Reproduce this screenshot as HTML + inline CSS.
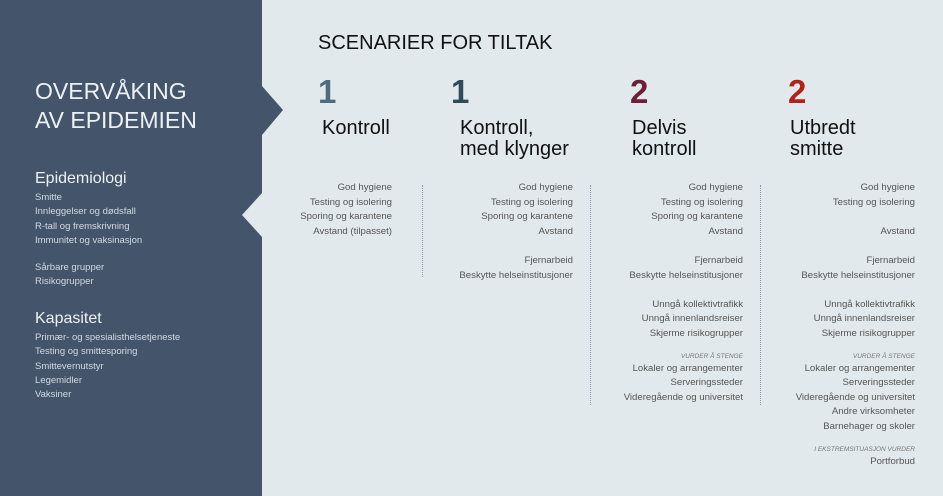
<!DOCTYPE html>
<html><head><meta charset="utf-8"><style>
body{margin:0;width:943px;height:496px;background:#e1e9ec;position:relative;overflow:hidden;font-family:"Liberation Sans",sans-serif}
.a{position:absolute;white-space:nowrap}
.l{color:#d3dae3;font-size:9.5px;left:35px}
.c{line-height:14.6px;color:#555;font-size:9.6px;text-align:right}
.s{color:#777;font-size:6.5px;font-style:italic;text-align:right;line-height:10px;margin-top:10px}
.h{color:#111;font-size:20px;line-height:21px}
.n{font-size:33px;font-weight:bold}
.d{position:absolute;top:185px;width:0;border-left:1px dotted #8a98a8}
</style></head><body>
<svg class="a" style="left:0;top:0" width="290" height="496"><polygon points="0,0 262,0 262,86 283,110 262,135 262,193 242,215 262,237 262,496 0,496" fill="#44546a"/></svg>
<div class="a" style="left:35px;top:77px;color:#eef1f4;font-size:23px;line-height:29px">OVERVÅKING<br>AV EPIDEMIEN</div>
<div class="a" style="left:35px;top:170px;color:#eef1f4;font-size:16px">Epidemiologi</div>
<div class="a" style="left:35px;top:310px;color:#eef1f4;font-size:16px">Kapasitet</div>
<div class="a l" style="top:192px">Smitte</div>
<div class="a l" style="top:206px">Innleggelser og dødsfall</div>
<div class="a l" style="top:221px">R-tall og fremskrivning</div>
<div class="a l" style="top:235px">Immunitet og vaksinasjon</div>
<div class="a l" style="top:262px">Sårbare grupper</div>
<div class="a l" style="top:276px">Risikogrupper</div>
<div class="a l" style="top:332px">Primær- og spesialisthelsetjeneste</div>
<div class="a l" style="top:346px">Testing og smittesporing</div>
<div class="a l" style="top:361px">Smittevernutstyr</div>
<div class="a l" style="top:375px">Legemidler</div>
<div class="a l" style="top:389px">Vaksiner</div>

<div class="a" style="left:318px;top:32px;font-size:20px;color:#111">SCENARIER FOR TILTAK</div>
<div class="a n" style="left:318px;top:73px;color:#4d6d7e">1</div>
<div class="a n" style="left:451px;top:73px;color:#2f4b59">1</div>
<div class="a n" style="left:630px;top:73px;color:#6e1f37">2</div>
<div class="a n" style="left:788px;top:73px;color:#b0231d">2</div>
<div class="a h" style="left:322px;top:118px">Kontroll</div>
<div class="a h" style="left:460px;top:118px">Kontroll,<br>med klynger</div>
<div class="a h" style="left:632px;top:118px">Delvis<br>kontroll</div>
<div class="a h" style="left:790px;top:118px">Utbredt<br>smitte</div>

<div class="d" style="left:422px;height:92px"></div>
<div class="d" style="left:590px;height:220px"></div>
<div class="d" style="left:760px;height:220px"></div>

<div class="a" style="right:551px;top:181px">
<div class="c">God hygiene<br>Testing og isolering<br>Sporing og karantene<br>Avstand (tilpasset)</div></div>

<div class="a" style="right:370px;top:181px">
<div class="c">God hygiene<br>Testing og isolering<br>Sporing og karantene<br>Avstand<br>&nbsp;<br>Fjernarbeid<br>Beskytte helseinstitusjoner</div></div>

<div class="a" style="right:200px;top:181px">
<div class="c">God hygiene<br>Testing og isolering<br>Sporing og karantene<br>Avstand<br>&nbsp;<br>Fjernarbeid<br>Beskytte helseinstitusjoner<br>&nbsp;<br>Unngå kollektivtrafikk<br>Unngå innenlandsreiser<br>Skjerme risikogrupper</div>
<div class="s">VURDER Å STENGE</div>
<div class="c">Lokaler og arrangementer<br>Serveringssteder<br>Videregående og universitet</div></div>

<div class="a" style="right:28px;top:181px">
<div class="c">God hygiene<br>Testing og isolering<br>&nbsp;<br>Avstand<br>&nbsp;<br>Fjernarbeid<br>Beskytte helseinstitusjoner<br>&nbsp;<br>Unngå kollektivtrafikk<br>Unngå innenlandsreiser<br>Skjerme risikogrupper</div>
<div class="s">VURDER Å STENGE</div>
<div class="c">Lokaler og arrangementer<br>Serveringssteder<br>Videregående og universitet<br>Andre virksomheter<br>Barnehager og skoler</div>
<div class="s">I EKSTREMSITUASJON VURDER</div>
<div class="c">Portforbud</div></div>
</body></html>
